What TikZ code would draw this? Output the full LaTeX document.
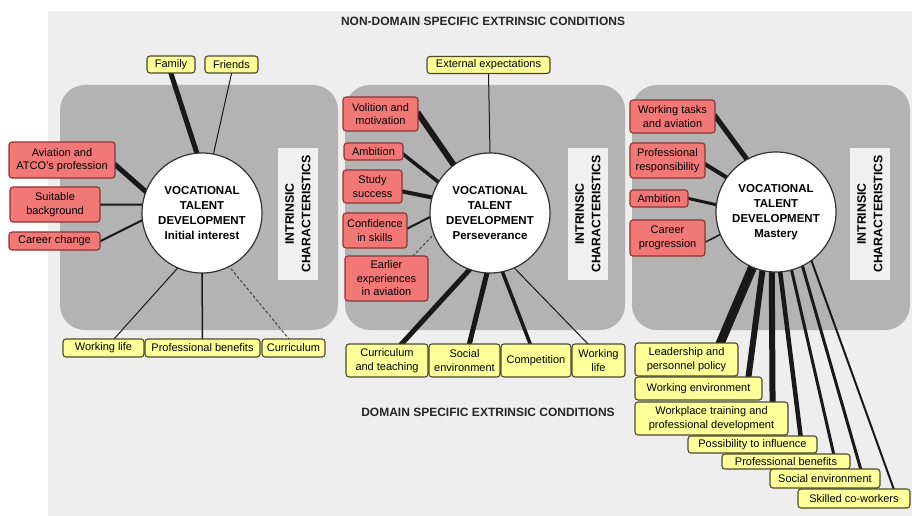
\documentclass[tikz,border=0pt]{standalone}
\usepackage{fontspec}
\setmainfont{Liberation Sans}
\usetikzlibrary{calc}
\pgfdeclarelayer{bg}
\pgfdeclarelayer{conn}
\pgfsetlayers{bg,conn,main}
\definecolor{bgc}{HTML}{EEEEEE}
\definecolor{panelc}{HTML}{B3B3B3}
\definecolor{pinkf}{HTML}{F27878}
\definecolor{pinkd}{HTML}{8C3333}
\definecolor{yelf}{HTML}{FFFF99}
\definecolor{yeld}{HTML}{4A4A2A}
\definecolor{introc}{HTML}{F0F0F0}
\tikzset{
 box/.style={rounded corners=3pt, line width=1.1pt, align=center, inner sep=0pt, font=\fontsize{11}{13.5}\selectfont},
 pbox/.style={box, draw=pinkd, fill=pinkf},
 ybox/.style={box, draw=yeld, fill=yelf},
 vtd/.style={circle, draw=black!80, line width=1.2pt, fill=white, minimum size=120pt, inner sep=0pt, align=center, font=\fontsize{11.5}{15}\selectfont\bfseries},
 intr/.style={fill=introc, minimum width=132pt, minimum height=40pt, inner sep=0pt, align=center, font=\fontsize{12.3}{16.5}\selectfont\bfseries, rotate=90},
 cn/.style={draw=black!90, shorten <=-8pt, shorten >=-2pt},
 dsh/.style={cn, draw=black!70, line width=1.1pt, dash pattern=on 3pt off 2pt},
 hdr/.style={font=\fontsize{12}{14}\selectfont\bfseries, text=black!85},
 panel/.style={fill=panelc, rounded corners=25pt}
}
\begin{document}
\begin{tikzpicture}[x=1pt,y=-1pt]
\useasboundingbox (0,0) rectangle (912,516);
\begin{pgfonlayer}{bg}
\fill[bgc] (48,11) rectangle (912,516);
\fill[panel] (60,85) rectangle (338,330);
\fill[panel] (345,85) rectangle (625,330);
\fill[panel] (632,85) rectangle (910,330);
\end{pgfonlayer}

\node[hdr] (h1) at (483,21) {NON-DOMAIN SPECIFIC EXTRINSIC CONDITIONS};
\node[hdr] (h2) at (488,412) {DOMAIN SPECIFIC EXTRINSIC CONDITIONS};

% intrinsic boxes
\node[intr] (i1) at (298,214) {INTRINSIC\\CHARACTERISTICS};
\node[intr] (i2) at (588,214) {INTRINSIC\\CHARACTERISTICS};
\node[intr] (i3) at (870,214) {INTRINSIC\\CHARACTERISTICS};

% circles
\node[vtd] (c1) at (202,213) {VOCATIONAL\\TALENT\\DEVELOPMENT\\Initial interest};
\node[vtd] (c2) at (490,213) {VOCATIONAL\\TALENT\\DEVELOPMENT\\Perseverance};
\node[vtd] (c3) at (776,212) {VOCATIONAL\\TALENT\\DEVELOPMENT\\Mastery};

% panel 1 boxes
\node[ybox, minimum width=48, minimum height=17] (fam) at (171,64.5) {Family};
\node[ybox, minimum width=53, minimum height=17] (fri) at (231.5,64.5) {Friends};
\node[pbox, minimum width=106, minimum height=36] (av) at (62,160) {Aviation and\\ATCO's profession};
\node[pbox, minimum width=90, minimum height=35] (sb) at (55,204.5) {Suitable\\background};
\node[pbox, minimum width=91, minimum height=18] (cc) at (54.5,241) {Career change};
\node[ybox, minimum width=81, minimum height=18] (wl) at (103.5,348) {Working life};
\node[ybox, minimum width=115, minimum height=18] (pb) at (202.5,348) {Professional benefits};
\node[ybox, minimum width=63, minimum height=18] (cu) at (293.5,348) {Curriculum};

% panel 2 boxes
\node[ybox, minimum width=123, minimum height=17] (ext) at (488.5,65) {External expectations};
\node[pbox, minimum width=75, minimum height=34] (vm) at (380.5,114) {Volition and\\motivation};
\node[pbox, minimum width=59, minimum height=17] (am2) at (373.5,151.5) {Ambition};
\node[pbox, minimum width=59, minimum height=33] (ss) at (372.5,186.5) {Study\\success};
\node[pbox, minimum width=64, minimum height=35] (cs) at (375,230.5) {Confidence\\in skills};
\node[pbox, minimum width=83, minimum height=45] (ee) at (386.5,278.5) {Earlier\\experiences\\in aviation};
\node[ybox, minimum width=82, minimum height=33] (ct) at (387,360.5) {Curriculum\\and teaching};
\node[ybox, minimum width=71, minimum height=33] (se) at (464.5,360.5) {Social\\environment};
\node[ybox, minimum width=70, minimum height=33] (co) at (536,360.5) {Competition};
\node[ybox, minimum width=53, minimum height=33] (wl2) at (598.5,360.5) {Working\\life};

% panel 3 boxes
\node[pbox, minimum width=85, minimum height=33] (wt) at (672.5,116.5) {Working tasks\\and aviation};
\node[pbox, minimum width=75, minimum height=35] (pr) at (667.5,160.5) {Professional\\responsibility};
\node[pbox, minimum width=58, minimum height=17] (am3) at (659,198.5) {Ambition};
\node[pbox, minimum width=75, minimum height=36] (cp) at (667.5,238) {Career\\progression};
\node[ybox, minimum width=103, minimum height=33] (lp) at (686.5,359.5) {Leadership and\\personnel policy};
\node[ybox, minimum width=127, minimum height=23] (we) at (698.5,388.5) {Working environment};
\node[ybox, minimum width=153, minimum height=33] (wpt) at (711.5,418.5) {Workplace training and\\professional development};
\node[ybox, minimum width=129, minimum height=17] (pi) at (752.5,444.5) {Possibility to influence};
\node[ybox, minimum width=128, minimum height=15] (pb3) at (786,461.5) {Professional benefits};
\node[ybox, minimum width=110, minimum height=19] (se3) at (825,478.5) {Social environment};
\node[ybox, minimum width=112, minimum height=19] (sc) at (854,498.5) {Skilled co-workers};

\begin{pgfonlayer}{conn}
% panel 1
\draw[cn, line width=5] (c1.95) -- (fam.south);
\draw[cn, line width=1] (c1.79) -- (fri.south);
\draw[cn, line width=5] (c1.159) -- ($(av.east)+(0,5)$);
\draw[cn, line width=2] (c1.172) -- (sb.east);
\draw[cn, line width=2] (c1.187) -- (cc.east);
\draw[cn, line width=1] (c1.246) -- ($(wl.north)+(11,0)$);
\draw[cn, line width=1.5] (c1.270) -- (pb.north);
\draw[dsh] (c1.297) -- ($(cu.north)+(-5,0)$);
% panel 2
\draw[cn, line width=1] (c2.90) -- (ext.south);
\draw[cn, line width=6] (c2.127) -- (vm.east);
\draw[cn, line width=3.5] (c2.149) -- ($(am2.east)+(0,3)$);
\draw[cn, line width=4] (c2.165) -- ($(ss.east)+(0,5)$);
\draw[cn, line width=2] (c2.184) -- ($(cs.east)+(0,-2)$);
\draw[dsh] (c2.201) -- ($(ee.north)+(27,0)$);
\draw[cn, line width=5] (c2.250) -- ($(ct.north)+(15,0)$);
\draw[cn, line width=5] (c2.267) -- ($(se.north)+(5,0)$);
\draw[cn, line width=3.5] (c2.282) -- ($(co.north)+(-6,0)$);
\draw[cn, line width=1] (c2.294) -- ($(wl2.north)+(-11,0)$);
% panel 3
\draw[cn, line width=5] (c3.119) -- (wt.east);
\draw[cn, line width=4] (c3.145) -- ($(pr.east)+(0,4)$);
\draw[cn, line width=3] (c3.173) -- (am3.east);
\draw[cn, line width=1.5] (c3.202) -- ($(cp.east)+(0,4)$);
\draw[cn, line width=9] (c3.247) -- ($(lp.north east)+(-18,0)$);
\draw[cn, line width=6] (c3.257) -- ($(we.north east)+(-14,0)$);
\draw[cn, line width=6] (c3.266) -- ($(wpt.north east)+(-16,0)$);
\draw[cn, line width=4.5] (c3.274) -- ($(pi.north east)+(-17,0)$);
\draw[cn, line width=3] (c3.285) -- ($(pb3.north east)+(-17,0)$);
\draw[cn, line width=3] (c3.296) -- ($(se3.north east)+(-20,0)$);
\draw[cn, line width=2] (c3.306) -- ($(sc.north east)+(-17,0)$);
\end{pgfonlayer}
\end{tikzpicture}
\end{document}
